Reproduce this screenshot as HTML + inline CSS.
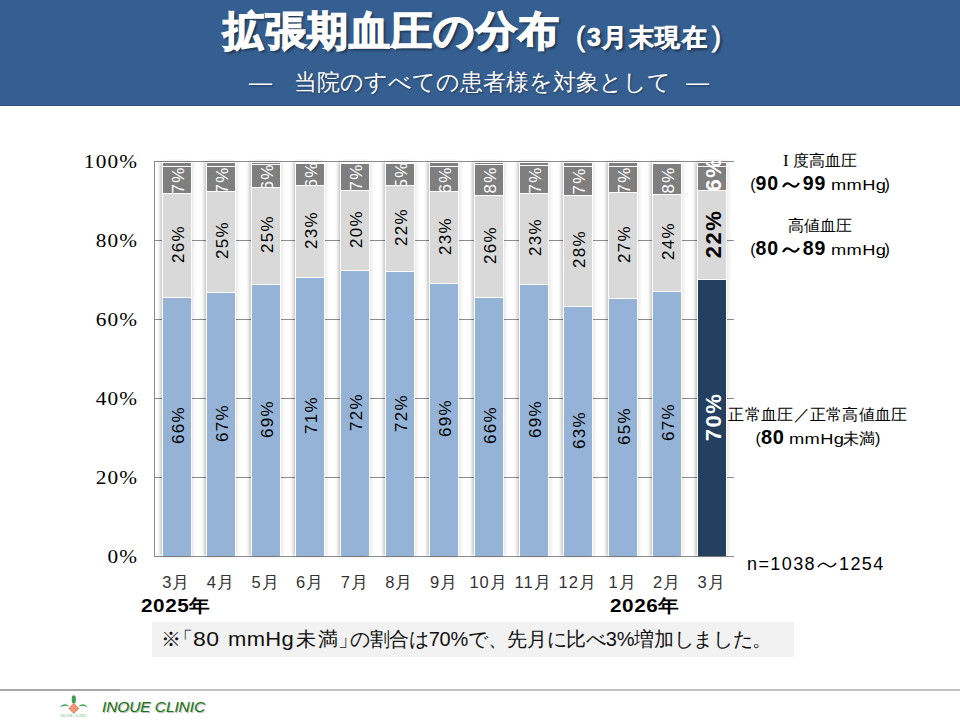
<!DOCTYPE html>
<html lang="ja"><head><meta charset="utf-8">
<style>
*{margin:0;padding:0;box-sizing:border-box}
html,body{width:960px;height:720px;overflow:hidden;background:#fff}
body{position:relative;font-family:"Liberation Sans",sans-serif;color:#000}
.hdr{position:absolute;left:0;top:0;width:960px;height:106px;background:#365F91;border-bottom:1px solid #2E5383}
.title{position:absolute;left:223px;top:6px;white-space:nowrap;color:#fff;font-weight:bold;font-size:41px;letter-spacing:1px;line-height:50px;-webkit-text-stroke:1.4px #fff;text-shadow:2px 2px 3px rgba(0,0,0,.55)}
.tsm{position:absolute;top:12px;white-space:nowrap;color:#fff;font-weight:bold;font-size:25px;line-height:50px;-webkit-text-stroke:0.6px #fff;text-shadow:2px 2px 3px rgba(0,0,0,.55)}
.par{font-size:27px;font-weight:normal;-webkit-text-stroke:0.8px #fff}
.title i{font-style:normal;display:inline-block;width:24px;text-align:right}
.title u{text-decoration:none;display:inline-block;width:24px;text-align:left}
.sub{position:absolute;top:66px;white-space:nowrap;color:#fff;font-size:23px;line-height:32px;text-shadow:1px 1px 2px rgba(0,0,0,.4)}
.gl{position:absolute;left:154px;width:580px;height:1px;background:#8C8C8C}
.ax{position:absolute;left:154px;top:161px;width:1px;height:396px;background:#8C8C8C}
.yl{position:absolute;left:40px;width:98px;text-align:right;font-family:"Liberation Serif",serif;font-size:19px;letter-spacing:1px;line-height:20px;color:#000;transform:scaleX(1.12);transform-origin:100% 0}
.bar{position:absolute;width:30px;box-shadow:-2px 0 3px rgba(0,0,0,.22),2px 0 3px rgba(0,0,0,.08)}
.seg{position:absolute;left:0;width:30px;overflow:hidden;border:1px solid #fff;border-bottom:none;display:flex;align-items:center;justify-content:center}
.lab{display:block;transform:translate(1.5px,-1.5px) rotate(-90deg);white-space:nowrap;font-size:17px;letter-spacing:1.3px;line-height:17px}
.ovl{position:absolute;left:0;width:30px;overflow:hidden;display:flex;align-items:center;justify-content:center}
.dk{transform:translate(1.5px,0.5px) rotate(-90deg)}
.last .lab{font-weight:bold;font-size:22px;letter-spacing:1.5px}
.mon{position:absolute;top:573px;width:50px;text-align:center;font-size:16.5px;letter-spacing:1px;line-height:18px;color:#333}
.yr{position:absolute;top:596px;font-weight:bold;font-size:18px;letter-spacing:0.5px;transform:scaleX(1.15);transform-origin:0 0;line-height:20px}
.leg{position:absolute;text-align:center;white-space:nowrap;font-size:16px;line-height:22px}
.rom{font-family:"Liberation Serif",serif;font-size:17px}
.leg b{font-size:19.5px;letter-spacing:0.8px}
.leg em{font-style:normal;font-size:15.5px;letter-spacing:0.3px;display:inline-block;transform:scaleX(1.18);transform-origin:0 50%;margin-right:7px}
.leg s{text-decoration:none;display:inline-block;width:24px;text-align:center}
.n{position:absolute;left:747px;top:553px;font-size:18px;letter-spacing:1.4px;line-height:22px;white-space:nowrap}
.n s{text-decoration:none;display:inline-block;width:22px;text-align:center;margin-right:1px}
.note{position:absolute;left:152px;top:622px;width:642px;height:35px;background:#F2F2F2}
.nt{position:absolute;top:0;font-size:20px;line-height:35px;white-space:nowrap;color:#111}
.fl{position:absolute;left:0;top:688.5px;width:960px;height:2px;background:linear-gradient(to right,#A8A8A8 0,#A8A8A8 120px,#C4C4C4 120px,#C4C4C4 960px)}
.clinic{position:absolute;left:102px;top:697px;font-style:italic;font-size:15.5px;letter-spacing:-0.1px;line-height:20px;color:#167516;text-shadow:1px 1px 1px rgba(0,0,0,.3)}
</style></head><body>
<div class="hdr"></div>
<div class="title">拡張期血圧の分布</div><div class="tsm par" style="left:576px">(</div><div class="tsm" style="left:587px;letter-spacing:1.5px">3月末現在</div><div class="tsm par" style="left:712px">)</div>
<div class="sub" style="left:249px">—</div><div class="sub" style="left:294px">当院のすべての患者様を対象として</div><div class="sub" style="left:686px">—</div>
<div class="gl" style="top:556.0px"></div>
<div class="yl" style="top:547.0px">0%</div>
<div class="gl" style="top:477.0px"></div>
<div class="yl" style="top:468.0px">20%</div>
<div class="gl" style="top:398.0px"></div>
<div class="yl" style="top:389.0px">40%</div>
<div class="gl" style="top:319.0px"></div>
<div class="yl" style="top:310.0px">60%</div>
<div class="gl" style="top:240.0px"></div>
<div class="yl" style="top:231.0px">80%</div>
<div class="gl" style="top:161.0px"></div>
<div class="yl" style="top:152.0px">100%</div>
<div class="ax"></div>
<div class="bar" style="left:162px;top:162px;height:394px">
<div class="seg" style="top:0.0px;height:3.5px;background:#7F7F7F"></div>
<div class="seg" style="top:3.5px;height:27.0px;background:#7F7F7F"><span class="lab dk" style="color:#fff">7%</span></div>
<div class="seg" style="top:30.5px;height:104.0px;background:#D9D9D9"><span class="lab" style="color:#000">26%</span></div>
<div class="seg" style="top:134.5px;height:259.5px;background:#95B3D7"><span class="lab" style="color:#000">66%</span></div>
</div>
<div class="mon" style="left:151.3px">3月</div>
<div class="bar" style="left:206px;top:162px;height:394px">
<div class="seg" style="top:0.0px;height:4.0px;background:#7F7F7F"></div>
<div class="seg" style="top:4.0px;height:25.0px;background:#7F7F7F"><span class="lab dk" style="color:#fff">7%</span></div>
<div class="seg" style="top:29.0px;height:100.5px;background:#D9D9D9"><span class="lab" style="color:#000">25%</span></div>
<div class="seg" style="top:129.5px;height:264.5px;background:#95B3D7"><span class="lab" style="color:#000">67%</span></div>
</div>
<div class="mon" style="left:195.9px">4月</div>
<div class="bar" style="left:251px;top:162px;height:394px">
<div class="seg" style="top:0.0px;height:2.0px;background:#7F7F7F"></div>
<div class="seg" style="top:2.0px;height:23.0px;background:#7F7F7F"><span class="lab dk" style="color:#fff">6%</span></div>
<div class="seg" style="top:25.0px;height:96.5px;background:#D9D9D9"><span class="lab" style="color:#000">25%</span></div>
<div class="seg" style="top:121.5px;height:272.5px;background:#95B3D7"><span class="lab" style="color:#000">69%</span></div>
</div>
<div class="mon" style="left:240.5px">5月</div>
<div class="bar" style="left:295px;top:162px;height:394px">
<div class="seg" style="top:0.0px;height:0.5px;background:#7F7F7F"></div>
<div class="seg" style="top:0.5px;height:22.0px;background:#7F7F7F"><span class="lab dk" style="color:#fff">6%</span></div>
<div class="seg" style="top:22.5px;height:92.0px;background:#D9D9D9"><span class="lab" style="color:#000">23%</span></div>
<div class="seg" style="top:114.5px;height:279.5px;background:#95B3D7"><span class="lab" style="color:#000">71%</span></div>
</div>
<div class="mon" style="left:285.2px">6月</div>
<div class="bar" style="left:340px;top:162px;height:394px">
<div class="seg" style="top:0.0px;height:0.5px;background:#7F7F7F"></div>
<div class="seg" style="top:0.5px;height:27.0px;background:#7F7F7F"><span class="lab dk" style="color:#fff">7%</span></div>
<div class="seg" style="top:27.5px;height:80.0px;background:#D9D9D9"><span class="lab" style="color:#000">20%</span></div>
<div class="seg" style="top:107.5px;height:286.5px;background:#95B3D7"><span class="lab" style="color:#000">72%</span></div>
</div>
<div class="mon" style="left:329.8px">7月</div>
<div class="bar" style="left:385px;top:162px;height:394px">
<div class="seg" style="top:0.0px;height:0.5px;background:#7F7F7F"></div>
<div class="seg" style="top:0.5px;height:22.5px;background:#7F7F7F"><span class="lab dk" style="color:#fff">5%</span></div>
<div class="seg" style="top:23.0px;height:86.0px;background:#D9D9D9"><span class="lab" style="color:#000">22%</span></div>
<div class="seg" style="top:109.0px;height:285.0px;background:#95B3D7"><span class="lab" style="color:#000">72%</span></div>
</div>
<div class="mon" style="left:374.4px">8月</div>
<div class="bar" style="left:429px;top:162px;height:394px">
<div class="seg" style="top:0.0px;height:4.0px;background:#7F7F7F"></div>
<div class="seg" style="top:4.0px;height:25.0px;background:#7F7F7F"><span class="lab dk" style="color:#fff">6%</span></div>
<div class="seg" style="top:29.0px;height:91.5px;background:#D9D9D9"><span class="lab" style="color:#000">23%</span></div>
<div class="seg" style="top:120.5px;height:273.5px;background:#95B3D7"><span class="lab" style="color:#000">69%</span></div>
</div>
<div class="mon" style="left:419.0px">9月</div>
<div class="bar" style="left:474px;top:162px;height:394px">
<div class="seg" style="top:0.0px;height:1.5px;background:#7F7F7F"></div>
<div class="seg" style="top:1.5px;height:31.0px;background:#7F7F7F"><span class="lab dk" style="color:#fff">8%</span></div>
<div class="seg" style="top:32.5px;height:102.0px;background:#D9D9D9"><span class="lab" style="color:#000">26%</span></div>
<div class="seg" style="top:134.5px;height:259.5px;background:#95B3D7"><span class="lab" style="color:#000">66%</span></div>
</div>
<div class="mon" style="left:463.6px">10月</div>
<div class="bar" style="left:519px;top:162px;height:394px">
<div class="seg" style="top:0.0px;height:3.0px;background:#7F7F7F"></div>
<div class="seg" style="top:3.0px;height:27.5px;background:#7F7F7F"><span class="lab dk" style="color:#fff">7%</span></div>
<div class="seg" style="top:30.5px;height:91.0px;background:#D9D9D9"><span class="lab" style="color:#000">23%</span></div>
<div class="seg" style="top:121.5px;height:272.5px;background:#95B3D7"><span class="lab" style="color:#000">69%</span></div>
</div>
<div class="mon" style="left:508.2px">11月</div>
<div class="bar" style="left:563px;top:162px;height:394px">
<div class="seg" style="top:0.0px;height:4.0px;background:#7F7F7F"></div>
<div class="seg" style="top:4.0px;height:28.5px;background:#7F7F7F"><span class="lab dk" style="color:#fff">7%</span></div>
<div class="seg" style="top:32.5px;height:111.0px;background:#D9D9D9"><span class="lab" style="color:#000">28%</span></div>
<div class="seg" style="top:143.5px;height:250.5px;background:#95B3D7"><span class="lab" style="color:#000">63%</span></div>
</div>
<div class="mon" style="left:552.8px">12月</div>
<div class="bar" style="left:608px;top:162px;height:394px">
<div class="seg" style="top:0.0px;height:4.0px;background:#7F7F7F"></div>
<div class="seg" style="top:4.0px;height:26.0px;background:#7F7F7F"><span class="lab dk" style="color:#fff">7%</span></div>
<div class="seg" style="top:30.0px;height:105.5px;background:#D9D9D9"><span class="lab" style="color:#000">27%</span></div>
<div class="seg" style="top:135.5px;height:258.5px;background:#95B3D7"><span class="lab" style="color:#000">65%</span></div>
</div>
<div class="mon" style="left:597.5px">1月</div>
<div class="bar" style="left:652px;top:162px;height:394px">
<div class="seg" style="top:0.0px;height:1.0px;background:#7F7F7F"></div>
<div class="seg" style="top:1.0px;height:31.0px;background:#7F7F7F"><span class="lab dk" style="color:#fff">8%</span></div>
<div class="seg" style="top:32.0px;height:96.5px;background:#D9D9D9"><span class="lab" style="color:#000">24%</span></div>
<div class="seg" style="top:128.5px;height:265.5px;background:#95B3D7"><span class="lab" style="color:#000">67%</span></div>
</div>
<div class="mon" style="left:642.1px">2月</div>
<div class="bar last" style="left:697px;top:162px;height:394px">
<div class="seg" style="top:0.0px;height:4.0px;background:#7F7F7F"></div>
<div class="seg" style="top:4.0px;height:24.0px;background:#7F7F7F"></div>
<div class="seg" style="top:28.0px;height:89.0px;background:#D9D9D9"><span class="lab" style="color:#000">22%</span></div>
<div class="seg" style="top:117.0px;height:277.0px;background:#243F60"><span class="lab" style="color:#fff">70%</span></div>
<div class="ovl" style="top:-1px;height:29.0px"><span class="lab" style="color:#fff">6%</span></div>
</div>
<div class="mon" style="left:686.7px">3月</div>
<div class="yr" style="left:141px">2025年</div>
<div class="yr" style="left:610px">2026年</div>
<div class="leg" style="left:740px;top:150px;width:160px"><span class="rom">I</span> 度高血圧</div>
<div class="leg" style="left:740px;top:172px;width:160px">(<b>90<s><svg width="20" height="10" viewBox="0 0 20 10"><path d="M2 7 C4.5 2.5 7 2.5 10 5 C13 7.5 15.5 7.5 18 3" fill="none" stroke="#000" stroke-width="2.2"/></svg></s>99</b> <em>mmHg</em>)</div>
<div class="leg" style="left:740px;top:215px;width:160px">高値血圧</div>
<div class="leg" style="left:740px;top:237px;width:160px">(<b>80<s><svg width="20" height="10" viewBox="0 0 20 10"><path d="M2 7 C4.5 2.5 7 2.5 10 5 C13 7.5 15.5 7.5 18 3" fill="none" stroke="#000" stroke-width="2.2"/></svg></s>89</b> <em>mmHg</em>)</div>
<div class="leg" style="left:718px;top:404px;width:200px;letter-spacing:0.3px">正常血圧／正常高値血圧</div>
<div class="leg" style="left:718px;top:426px;width:200px">(<b style="font-size:20px">80</b> <em>mmHg</em>未満)</div>
<div class="n">n=1038<s><svg width="22" height="10" viewBox="0 0 22 10"><path d="M2 7 C5 2.5 8 2.5 11 5 C14 7.5 17 7.5 20 3" fill="none" stroke="#000" stroke-width="1.4"/></svg></s>1254</div>
<div class="note"><span class="nt" style="left:9px">※</span><span class="nt" style="left:21px">「</span><span class="nt" style="left:41px;letter-spacing:0.5px;transform:scaleX(1.15);transform-origin:0 0">80</span><span class="nt" style="left:76px;letter-spacing:0.3px;transform:scaleX(1.1);transform-origin:0 0">mmHg</span><span class="nt" style="left:144px;letter-spacing:1.5px">未満</span><span class="nt" style="left:186px">」</span><span class="nt" style="left:198px;letter-spacing:-0.3px">の割合は70%で、先月に比べ3%増加しました。</span></div>
<div class="fl"></div>
<svg style="position:absolute;left:58px;top:693px" width="32" height="26" viewBox="0 0 32 26">
<ellipse cx="15.8" cy="6.4" rx="2.1" ry="4.2" fill="#3E9E4C"/>
<path d="M1.8 14.4 Q6 8.6 11.4 13.6 Q6 11.6 1.8 14.4Z" fill="#3E9E4C"/>
<path d="M29.8 14.4 Q25.6 8.6 20.2 13.6 Q25.6 11.6 29.8 14.4Z" fill="#3E9E4C"/>
<g transform="rotate(45 15.8 15.4)"><rect x="12" y="11.6" width="7.6" height="7.6" fill="#F07850"/>
<path d="M14.5 11.6V19.2M17.1 11.6V19.2M12 14.1H19.6M12 16.7H19.6" stroke="#FBD0C0" stroke-width="0.7"/></g>
<text x="15.8" y="23.6" font-size="4.2" text-anchor="middle" fill="#7CC08A" font-family="Liberation Sans" textLength="27" lengthAdjust="spacingAndGlyphs">INOUE CLINIC</text>
</svg>
<div class="clinic">INOUE CLINIC</div>
</body></html>
